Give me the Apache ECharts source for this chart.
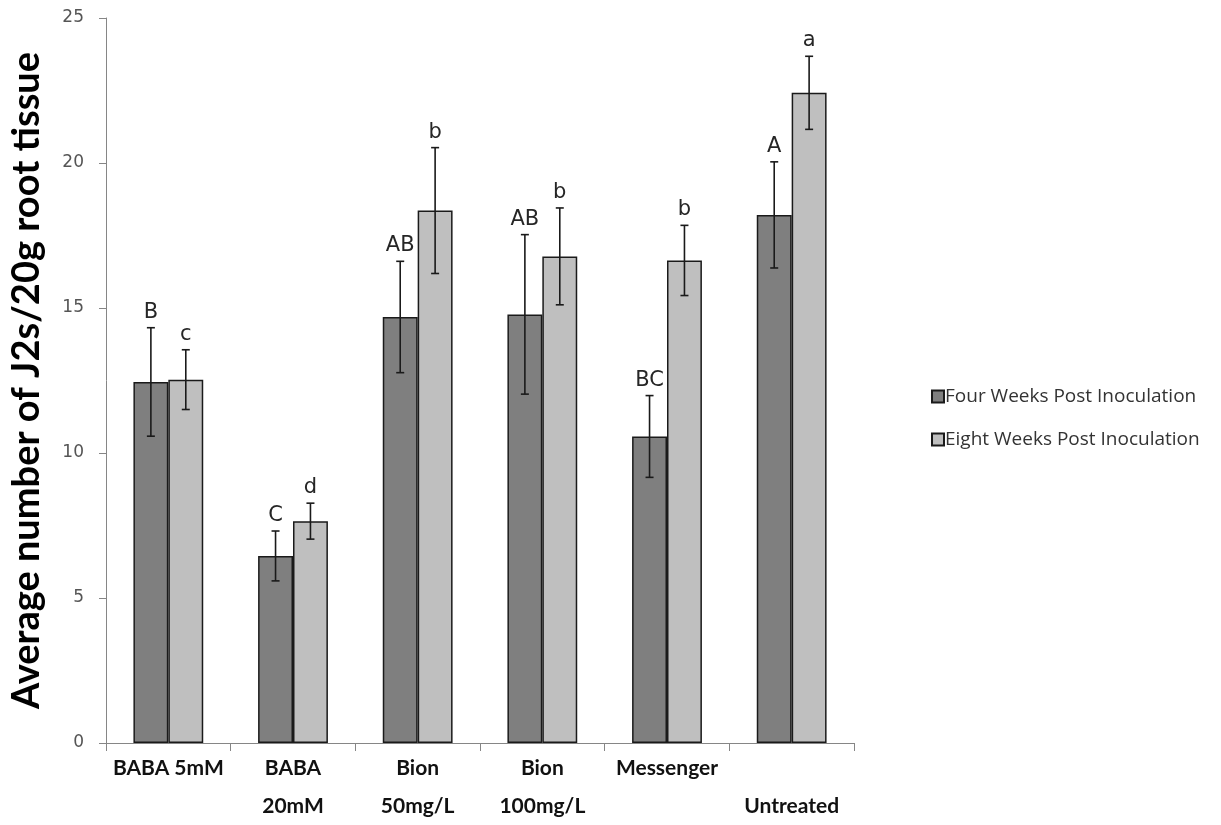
<!DOCTYPE html>
<html>
<head>
<meta charset="utf-8">
<script src="https://cdn.jsdelivr.net/npm/echarts@6/dist/echarts.min.js"></script>
<style>html,body{margin:0;padding:0;background:#fff;}#c{width:1221px;height:825px;}</style>
</head>
<body>
<div id="c"></div>
<script>
const categories = ['BABA 5mM', 'BABA\n20mM', 'Bion\n50mg/L', 'Bion\n100mg/L', 'Messenger', '\nUntreated'];
const seriesNames = ['Four Weeks Post Inoculation', 'Eight Weeks Post Inoculation'];
const fourWeeks = [12.45, 6.45, 14.69, 14.78, 10.57, 18.21];
const fourWeeksErr = [1.87, 0.86, 1.92, 2.75, 1.41, 1.83];
const fourWeeksLetters = ['B', 'C', 'AB', 'AB', 'BC', 'A'];
const eightWeeks = [12.53, 7.65, 18.36, 16.78, 16.64, 22.42];
const eightWeeksErr = [1.03, 0.62, 2.17, 1.67, 1.21, 1.26];
const eightWeeksLetters = ['c', 'd', 'b', 'b', 'b', 'a'];
const yTicks = [0, 5, 10, 15, 20, 25];

const colors = ['#7f7f7f', '#bfbfbf'];
const catGap = 0.44;

function errData(vals, errs, letters) {
  return vals.map((v, i) => [i, v, errs[i], letters[i]]);
}

function makeErr(seriesIdx) {
  return function (params, api) {
    const i = api.value(0);
    const v = api.value(1);
    const e = api.value(2);
    const letter = api.value(3);
    const band = api.size([1, 0])[0];
    const bw = band * (1 - catGap) / 2;
    const center = api.coord([i, 0])[0];
    const x = center + (seriesIdx === 0 ? -bw / 2 : bw / 2);
    const top = api.coord([i, v + e])[1];
    const bot = api.coord([i, v - e])[1];
    const cap = 4;
    const st = { stroke: '#1a1a1a', lineWidth: 1.6 };
    return {
      type: 'group',
      children: [
        { type: 'line', shape: { x1: x, y1: top, x2: x, y2: bot }, style: st },
        { type: 'line', shape: { x1: x - cap, y1: top, x2: x + cap, y2: top }, style: st },
        { type: 'line', shape: { x1: x - cap, y1: bot, x2: x + cap, y2: bot }, style: st },
        { type: 'text', style: { text: letter, x: x, y: top - 5, textAlign: 'center', textVerticalAlign: 'bottom',
          fontFamily: 'DejaVu Sans', fontSize: 21, fill: '#262626' } }
      ]
    };
  };
}

const chart = echarts.init(document.getElementById('c'));
chart.setOption({
  animation: false,
  backgroundColor: '#fff',
  grid: { left: 104, right: 367, top: 18, bottom: 79 },
  legend: {
    orient: 'vertical', left: 926, top: 382, itemWidth: 12, itemHeight: 12, itemGap: 24,
    icon: 'rect',
    data: seriesNames,
    textStyle: { fontFamily: 'Open Sans', fontSize: 19, color: '#333', padding: [0, 0, 0, -4] }
  },
  xAxis: {
    type: 'category',
    data: categories,
    axisLine: { lineStyle: { color: '#868686', width: 1 } },
    axisTick: { show: true, length: 8, lineStyle: { color: '#868686' } },
    axisLabel: { interval: 0, fontFamily: 'Lato', fontWeight: 'bold', fontSize: 21, color: '#111', lineHeight: 38, margin: 6 }
  },
  yAxis: {
    type: 'value', min: 0, max: 25, interval: 5,
    name: 'Average number of J2s/20g root tissue',
    nameLocation: 'middle', nameRotate: 90, nameGap: 60,
    nameTextStyle: { fontFamily: 'Lato', fontWeight: 'bold', fontSize: 38, color: '#000' },
    axisLine: { show: true, lineStyle: { color: '#868686', width: 1 } },
    axisTick: { show: true, length: 7, lineStyle: { color: '#868686' } },
    axisLabel: { fontFamily: 'DejaVu Sans', fontSize: 17, color: '#555', margin: 22,
      formatter: v => yTicks.includes(v) ? String(v) : '' },
    splitLine: { show: false }
  },
  series: [
    { name: seriesNames[0], type: 'bar', data: fourWeeks, barGap: '0%', barCategoryGap: '44%',
      itemStyle: { color: colors[0], borderColor: '#1a1a1a', borderWidth: 1.5 } },
    { name: seriesNames[1], type: 'bar', data: eightWeeks, barGap: '0%', barCategoryGap: '44%',
      itemStyle: { color: colors[1], borderColor: '#1a1a1a', borderWidth: 1.5 } },
    { type: 'custom', renderItem: makeErr(0), data: errData(fourWeeks, fourWeeksErr, fourWeeksLetters),
      encode: { x: 0, y: 1 }, z: 10, silent: true },
    { type: 'custom', renderItem: makeErr(1), data: errData(eightWeeks, eightWeeksErr, eightWeeksLetters),
      encode: { x: 0, y: 1 }, z: 10, silent: true }
  ]
});
</script>
</body>
</html>
